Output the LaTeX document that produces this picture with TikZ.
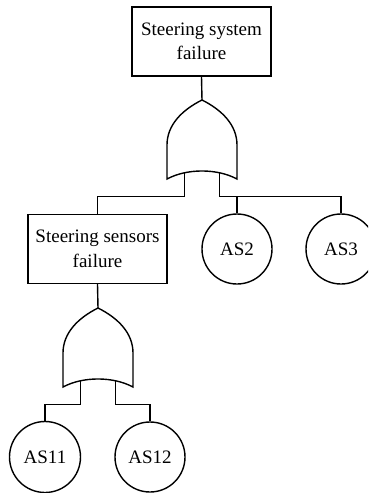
\documentclass[tikz,border=0pt]{standalone}
\usepackage{fontspec}
\setmainfont{Liberation Serif}
\begin{document}
\begin{tikzpicture}[x=1pt,y=-1pt,line width=1.4pt,
  event/.style={draw,rectangle,minimum width=139pt,minimum height=69pt,inner sep=0pt,
    align=center,font=\fontsize{19}{24.5}\selectfont},
  basic/.style={draw,circle,minimum size=70pt,inner sep=0pt,font=\fontsize{19}{22}\selectfont},
  orgate/.pic={
    \draw (0,0) .. controls (20,10) and (35,25) .. (35,45) -- (35,79)
      .. controls (15,68.3) and (-15,68.3) .. (-35,79) -- (-35,45)
      .. controls (-35,25) and (-20,10) .. (0,0) -- cycle;
    \coordinate (-tip) at (0,0);
    \coordinate (-in1) at (-17.5,72.5);
    \coordinate (-in2) at (17.5,72.5);
    \coordinate (-bus) at (0,96.5);
  }]
\useasboundingbox (0,0) rectangle (368,493);
\clip (0,0) rectangle (368,493);

% top event and its OR gate
\node[event] (sys) at (201.5,41.5) {Steering system\\failure};
\pic (g1) at (202,100) {orgate};

% second level
\node[event] (sens) at (97.5,249) {Steering sensors\\failure};
\node[basic] (as2) at (237,249) {AS2};
\node[basic] (as3) at (341,249) {AS3};
\pic (g2) at (98,308) {orgate};

% basic events under the sensor gate
\node[basic,minimum size=71pt] (as11) at (45,457) {AS11};
\node[basic] (as12) at (150,457) {AS12};

% connectors
\draw (sys.south) -- (g1-tip);
\draw (g1-in1) -- (g1-in1 |- g1-bus) -| (sens.north);
\draw (g1-in2) -- (g1-in2 |- g1-bus) -| (as2.north);
\draw (g1-in2 |- g1-bus) -| (as3.north);
\draw (sens.south) -- (g2-tip);
\draw (g2-in1) -- (g2-in1 |- g2-bus) -| (as11.north);
\draw (g2-in2) -- (g2-in2 |- g2-bus) -| (as12.north);
\end{tikzpicture}
\end{document}
